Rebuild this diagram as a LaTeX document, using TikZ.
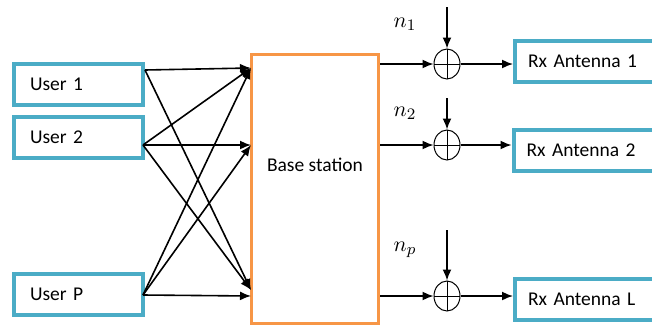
\documentclass[tikz,border=0pt]{standalone}
\usepackage{fontspec}
\setmainfont{Carlito}
\usetikzlibrary{arrows.meta,shapes.geometric}
\definecolor{boxteal}{RGB}{75,172,198}
\definecolor{bsorange}{RGB}{247,150,70}
\tikzset{
  userbox/.style={draw=boxteal, line width=2pt, fill=white, text width=48.5pt, inner xsep=8pt, minimum height=20.5pt, align=left, font=\fontsize{9.75}{12}\selectfont},
  rxbox/.style={draw=boxteal, line width=2pt, fill=white, text width=59.5pt, inner xsep=6.5pt, minimum height=20.5pt, align=left, font=\fontsize{9.75}{12}\selectfont},
  basebox/.style={draw=bsorange, line width=1.75pt, minimum width=63.5pt, minimum height=134.5pt, inner sep=0pt},
  adder/.style={ellipse, draw, line width=0.5pt, minimum width=13pt, minimum height=15pt, inner sep=0pt,
    path picture={\draw[line width=0.5pt] (path picture bounding box.north) -- (path picture bounding box.south)
      (path picture bounding box.west) -- (path picture bounding box.east);}},
  sig/.style={line width=0.8pt, -{Latex[length=5.5pt,width=4.5pt]}},
  noiselbl/.style={font=\fontsize{11}{13}\selectfont}
}
\begin{document}
\begin{tikzpicture}[x=0.5pt, y=-0.5pt]
  \useasboundingbox (0,0) rectangle (652,327);

  \node[userbox] (u1) at (78.5,84) {User 1};
  \node[userbox] (u2) at (78.5,137.5) {User 2};
  \node[userbox] (up) at (78.5,294.5) {User P};

  \node[basebox] (bs) at (315,189) {};
  \node[font=\fontsize{9.75}{12}\selectfont] (bstext) at (315,165) {Base station};

  \coordinate (u1o) at (145,70);
  \coordinate (u2o) at (143,145);
  \coordinate (upo) at (143,295);
  \coordinate (in1) at (251,68);
  \coordinate (in2) at (251,145);
  \coordinate (in3) at (251,290);
  \coordinate (in4) at (251,296);

  \draw[sig] (u1o) -- (in1);
  \draw[sig] (u1o) -- (in3);
  \draw[sig] (u2o) -- (in1);
  \draw[sig] (u2o) -- (in2);
  \draw[sig] (u2o) -- (in3);
  \draw[sig] (upo) -- (in1);
  \draw[sig] (upo) -- (in2);
  \draw[sig] (upo) -- (in4);

  \node[adder] (a1) at (447,64) {};
  \node[adder] (a2) at (447,145) {};
  \node[adder] (aL) at (447,296) {};

  \coordinate (z1) at (447,7);
  \coordinate (z2) at (447,98);
  \coordinate (zL) at (447,230);
  \node[noiselbl] (n1) at (405,24) {$n_1$};
  \node[noiselbl] (n2) at (405,113) {$n_2$};
  \node[noiselbl] (np) at (405,250) {$n_p$};

  \node[rxbox] (rx1) at (587.5,61) {Rx Antenna 1};
  \node[rxbox] (rx2) at (586,150.5) {Rx Antenna 2};
  \node[rxbox] (rxL) at (587.5,299.5) {Rx Antenna L};

  \draw[sig] (bs.east |- a1) -- (a1);
  \draw[sig] (bs.east |- a2) -- (a2);
  \draw[sig] (bs.east |- aL) -- (aL);
  \draw[sig] (z1) -- (a1);
  \draw[sig] (z2) -- (a2);
  \draw[sig] (zL) -- (aL);
  \draw[sig] (a1) -- (rx1.west |- a1);
  \draw[sig] (a2) -- (rx2.west |- a2);
  \draw[sig] (aL) -- (rxL.west |- aL);
\end{tikzpicture}
\end{document}
